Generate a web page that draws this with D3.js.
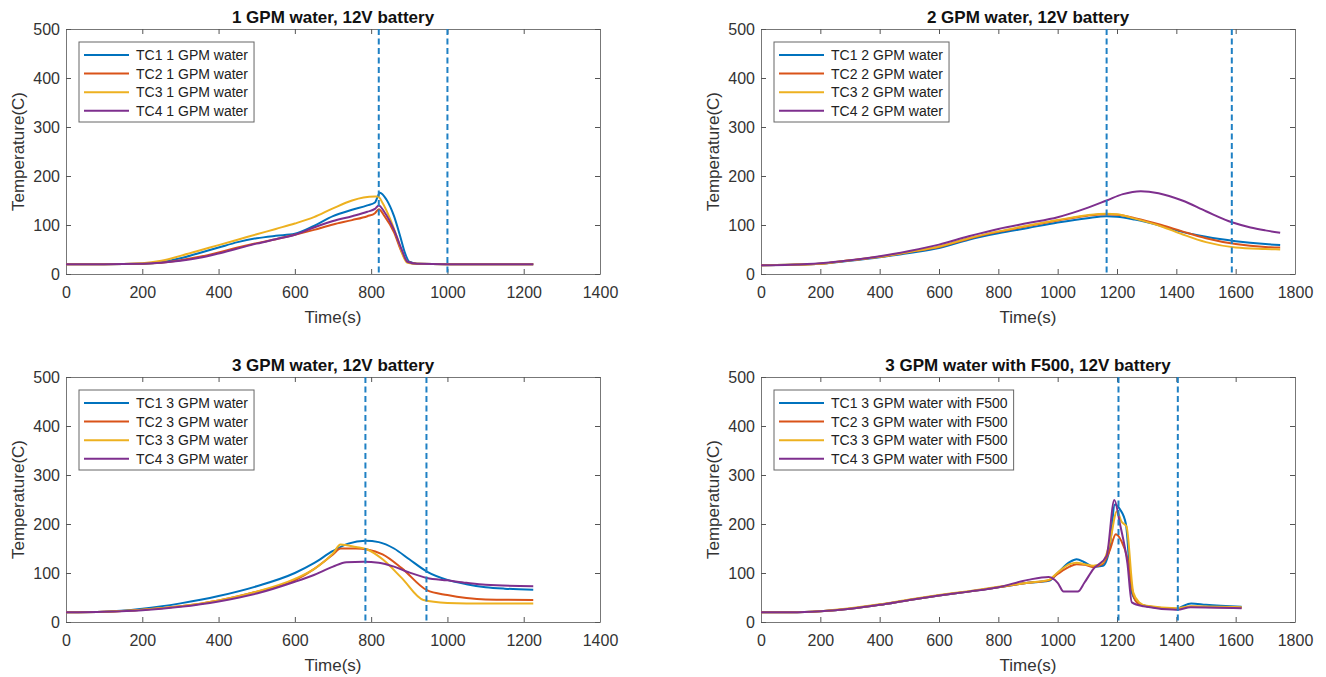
<!DOCTYPE html>
<html>
<head>
<meta charset="utf-8">
<script src="https://cdn.jsdelivr.net/npm/d3@7"></script>
<style>
  body { margin: 0; background: #fff; }
  svg { font-family: "Liberation Sans", Arial, sans-serif; }
  .tick text { fill: #333; font-size: 16px; }
  .tick line { stroke: #555; }
  .domain { stroke: #777; }
</style>
</head>
<body>
<div id="chart"></div>
<script>
/* Thermocouple readings, [time (s), temperature (C)]. */

// 1 GPM water
var gpm1TC1 = [[0,20],[100,20],[200,21],[250,24],[300,32],[350,43],[400,54],[450,65],[500,73],[550,78],[600,82],[650,98],[700,118],[750,131],[790,140],[810,146],[823,166],[840,152],[860,118],[875,80],[890,40],[900,25],[920,21],[1000,20],[1100,20],[1225,20]];
var gpm1TC2 = [[0,20],[100,20],[200,21],[250,23],[300,28],[350,35],[400,44],[450,54],[500,63],[550,71],[600,80],[650,90],[700,101],[750,110],[790,118],[810,124],[820,132],[835,118],[860,85],[880,45],[895,25],[920,21],[1000,20],[1225,20]];
var gpm1TC3 = [[0,20],[100,20],[200,22],[250,27],[300,37],[350,48],[400,59],[450,70],[500,81],[550,92],[600,103],[650,116],[700,134],[750,150],[780,156],[810,158],[818,158],[830,145],[850,112],[870,70],[885,35],[895,23],[920,21],[1000,20],[1225,20]];
var gpm1TC4 = [[0,20],[100,20],[200,21],[250,23],[300,27],[350,33],[400,42],[450,52],[500,62],[550,71],[600,80],[650,95],[700,108],[750,118],[790,127],[810,133],[820,140],[835,126],[860,90],[880,50],[895,25],[920,21],[1000,20],[1225,20]];

// 2 GPM water
var gpm2TC1 = [[0,18],[100,19],[200,21],[300,27],[400,34],[500,43],[600,53],[700,70],[800,83],[900,94],[1000,105],[1100,114],[1165,118],[1200,117],[1260,111],[1350,98],[1420,86],[1500,76],[1600,67],[1700,61],[1750,59]];
var gpm2TC2 = [[0,18],[100,19],[200,21],[300,28],[400,35],[500,45],[600,55],[700,72],[800,86],[900,98],[1000,109],[1100,119],[1165,122],[1200,121],[1260,114],[1350,100],[1420,87],[1500,73],[1600,61],[1700,55],[1750,54]];
var gpm2TC3 = [[0,18],[100,19],[200,21],[300,28],[400,35],[500,45],[600,56],[700,73],[800,87],[900,99],[1000,110],[1100,120],[1165,123],[1200,122],[1260,113],[1350,97],[1420,81],[1500,65],[1600,54],[1700,51],[1750,50]];
var gpm2TC4 = [[0,18],[100,19],[200,22],[300,28],[400,36],[500,47],[600,60],[700,77],[800,92],[900,104],[1000,116],[1100,135],[1165,150],[1220,163],[1280,169],[1340,165],[1420,150],[1500,128],[1590,105],[1650,95],[1700,89],[1750,84]];

// 3 GPM water
var gpm3TC1 = [[0,20],[100,21],[200,27],[300,38],[400,53],[500,73],[600,100],[650,120],[700,145],[740,160],[785,166],[820,163],[860,150],[900,128],[946,103],[1000,86],[1050,77],[1100,71],[1150,68],[1225,66]];
var gpm3TC2 = [[0,20],[100,21],[200,25],[300,32],[400,44],[500,62],[600,85],[650,108],[700,138],[720,150],[760,150],[790,148],[830,138],[880,110],[946,65],[1000,55],[1050,49],[1100,46],[1225,45]];
var gpm3TC3 = [[0,20],[100,21],[200,25],[300,32],[400,44],[500,62],[600,88],[650,108],[700,140],[720,158],[760,153],[790,148],[830,128],[880,90],[937,45],[1000,39],[1050,38],[1225,38]];
var gpm3TC4 = [[0,20],[100,21],[200,24],[300,31],[400,42],[500,58],[600,82],[650,96],[700,113],[735,122],[780,123],[820,121],[860,113],[900,101],[946,90],[1000,85],[1050,80],[1100,76],[1225,73]];

// 3 GPM water with F500
var f500TC1 = [[0,20],[100,20],[200,22],[300,27],[400,35],[500,45],[600,54],[700,62],[800,71],[900,80],[970,84],[1000,100],[1040,122],[1064,128],[1090,122],[1120,113],[1153,115],[1175,150],[1193,240],[1210,230],[1230,200],[1250,60],[1270,40],[1300,32],[1400,26],[1420,32],[1450,38],[1500,35],[1620,31]];
var f500TC2 = [[0,20],[100,20],[200,22],[300,27],[400,35],[500,45],[600,54],[700,62],[800,71],[900,80],[970,85],[1000,98],[1040,113],[1064,118],[1090,117],[1120,112],[1150,118],[1175,145],[1196,179],[1215,165],[1235,130],[1255,55],[1270,38],[1300,32],[1400,27],[1450,31],[1620,29]];
var f500TC3 = [[0,20],[100,20],[200,22],[300,28],[400,36],[500,46],[600,55],[700,63],[800,72],[900,80],[970,86],[1000,101],[1040,118],[1064,121],[1090,118],[1120,115],[1150,120],[1175,160],[1200,226],[1215,205],[1232,195],[1255,60],[1275,40],[1300,33],[1400,28],[1450,32],[1620,30]];
var f500TC4 = [[0,20],[100,20],[200,22],[300,27],[400,35],[500,45],[600,54],[700,62],[800,71],[900,86],[970,92],[1000,80],[1020,62],[1068,62],[1090,80],[1120,108],[1165,135],[1191,249],[1210,200],[1235,120],[1250,40],[1290,32],[1403,25],[1448,30],[1620,28]];

// Panel titles, legend labels, x extents and the dashed marker times
var titles = ["1 GPM water, 12V battery", "2 GPM water, 12V battery",
              "3 GPM water, 12V battery", "3 GPM water with F500, 12V battery"];
var labels = ["1 GPM water", "2 GPM water", "3 GPM water", "3 GPM water with F500"];
var xMaxes = [1400, 1800, 1400, 1800];
var markers = [[820, 1000], [1165, 1587], [785, 945], [1205, 1405]];
var yTicks = [0, 100, 200, 300, 400, 500];
var colors = ["#0072BD", "#D95319", "#EDB120", "#7E2F8E"];

var panelData = [
  [gpm1TC1, gpm1TC2, gpm1TC3, gpm1TC4],
  [gpm2TC1, gpm2TC2, gpm2TC3, gpm2TC4],
  [gpm3TC1, gpm3TC2, gpm3TC3, gpm3TC4],
  [f500TC1, f500TC2, f500TC3, f500TC4]
];

// Plot box placement for each panel (left, top), all the same size
var origins = [[66, 29], [761, 29], [66, 377], [761, 377]],
    width = 534,
    height = 245;

var svg = d3.select("#chart").append("svg")
    .attr("width", 1326)
    .attr("height", 677);

panelData.forEach(function(series, p) {
  var g = svg.append("g")
      .attr("transform", "translate(" + origins[p][0] + "," + origins[p][1] + ")");

  var xScale = d3.scaleLinear().domain([0, xMaxes[p]]).range([0, width]),
      yScale = d3.scaleLinear().domain([0, 500]).range([height, 0]);

  var xTicks = d3.range(0, xMaxes[p] + 1, 200);

  // Box with inward ticks on all four sides, labels only on bottom and left
  g.append("g")
      .attr("transform", "translate(0," + height + ")")
      .call(d3.axisBottom(xScale).tickValues(xTicks).tickFormat(d3.format("d"))
        .tickSizeInner(-5).tickSizeOuter(0).tickPadding(13));
  g.append("g")
      .call(d3.axisTop(xScale).tickValues(xTicks).tickSizeInner(-5).tickSizeOuter(0).tickFormat(""));
  g.append("g")
      .call(d3.axisLeft(yScale).tickValues(yTicks).tickFormat(d3.format("d"))
        .tickSizeInner(-5).tickSizeOuter(0).tickPadding(6));
  g.append("g")
      .attr("transform", "translate(" + width + ",0)")
      .call(d3.axisRight(yScale).tickValues(yTicks).tickSizeInner(-5).tickSizeOuter(0).tickFormat(""));

  // Temperature lines
  var line = d3.line()
      .x(function(d) { return xScale(d[0]); })
      .y(function(d) { return yScale(d[1]); })
      .curve(d3.curveMonotoneX);

  g.selectAll(".series")
      .data(series)
    .enter().append("path")
      .attr("class", "series")
      .attr("fill", "none")
      .attr("stroke", function(d, i) { return colors[i]; })
      .attr("stroke-width", 2)
      .attr("d", line);

  // Dashed markers
  g.selectAll(".marker")
      .data(markers[p])
    .enter().append("line")
      .attr("class", "marker")
      .attr("x1", function(d) { return xScale(d); })
      .attr("x2", function(d) { return xScale(d); })
      .attr("y1", 0)
      .attr("y2", height)
      .attr("stroke", "#1f80c4")
      .attr("stroke-width", 2)
      .attr("stroke-dasharray", "6,3.5");

  // Title and axis labels
  g.append("text")
      .attr("x", width / 2)
      .attr("y", -6)
      .attr("text-anchor", "middle")
      .attr("font-size", "17px")
      .attr("font-weight", "bold")
      .attr("fill", "#111")
      .text(titles[p]);

  g.append("text")
      .attr("x", width / 2)
      .attr("y", height + 49)
      .attr("text-anchor", "middle")
      .attr("font-size", "17px")
      .attr("fill", "#333")
      .text("Time(s)");

  g.append("text")
      .attr("transform", "rotate(-90)")
      .attr("x", -height / 2)
      .attr("y", -48)
      .attr("dy", "0.35em")
      .attr("text-anchor", "middle")
      .attr("font-size", "17px")
      .attr("fill", "#333")
      .text("Temperature(C)");

  // Legend in the top left corner
  var legend = g.append("g")
      .attr("transform", "translate(13,13)");

  var box = legend.append("rect")
      .attr("height", 80)
      .attr("fill", "#fff")
      .attr("stroke", "#666");

  var items = legend.selectAll(".item")
      .data(series)
    .enter().append("g")
      .attr("class", "item")
      .attr("transform", function(d, i) { return "translate(0," + (13 + i * 18.6) + ")"; });

  items.append("line")
      .attr("x1", 5)
      .attr("x2", 50)
      .attr("stroke", function(d, i) { return colors[i]; })
      .attr("stroke-width", 2);

  var texts = items.append("text")
      .attr("x", 57)
      .attr("dy", "0.35em")
      .attr("font-size", "14px")
      .attr("fill", "#222")
      .text(function(d, i) { return "TC" + (i + 1) + " " + labels[p]; });

  var maxLen = d3.max(texts.nodes(), function(n) { return n.getComputedTextLength(); });
  box.attr("width", 57 + maxLen + 6);
});
</script>
</body>
</html>
